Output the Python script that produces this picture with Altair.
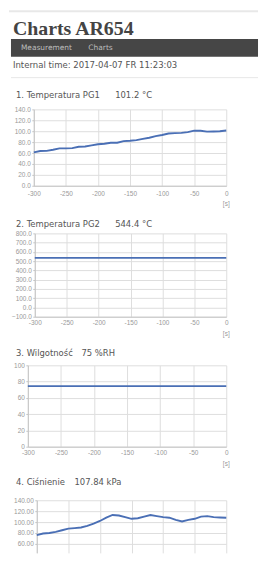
import altair as alt
import pandas as pd

# ---------------- data ----------------
PAGE_TITLE = "Charts AR654"
NAV_ITEMS = ["Measurement", "Charts"]
INTERNAL_TIME = "Internal time: 2017-04-07 FR 11:23:03"

CHART_NAMES = ["1. Temperatura PG1", "2. Temperatura PG2", "3. Wilgotność", "4. Ciśnienie"]
CHART_VALUES = ["101.2 °C", "544.4 °C", "75 %RH", "107.84 kPa"]

SECONDS = [-300, -290, -280, -270, -260, -250, -240, -230, -220, -210, -200,
           -190, -180, -170, -160, -150, -140, -130, -120, -110, -100,
           -90, -80, -70, -60, -50, -40, -30, -20, -10, 0]
X_TICKS = [-300, -250, -200, -150, -100, -50, 0]

PG1 = [61.2, 63.6, 64.0, 66.0, 68.5, 68.5, 69.0, 71.5, 72.0, 73.9, 76.0,
       77.0, 78.8, 78.8, 81.8, 82.5, 83.6, 86.0, 88.0, 91.0, 93.0,
       95.8, 96.5, 97.0, 98.2, 101.0, 100.8, 99.2, 99.4, 99.8, 101.2]
PG2 = [535.0, 535.0, 535.0, 535.0, 535.0, 535.0, 535.0, 535.0, 535.0, 535.0, 535.0,
       535.0, 535.0, 535.0, 535.0, 535.0, 535.0, 535.0, 535.0, 535.0, 535.0,
       535.0, 535.0, 535.0, 535.0, 535.0, 535.0, 535.0, 535.0, 535.0, 535.0]
RH = [74.5, 74.5, 74.5, 74.5, 74.5, 74.5, 74.5, 74.5, 74.5, 74.5, 74.5,
      74.5, 74.5, 74.5, 74.5, 74.5, 74.5, 74.5, 74.5, 74.5, 74.5,
      74.5, 74.5, 74.5, 74.5, 74.5, 74.5, 74.5, 74.5, 74.5, 74.5]
PRESSURE = [76.0, 79.0, 80.0, 82.0, 85.0, 88.0, 89.0, 90.0, 93.0, 97.0, 102.0,
            108.0, 113.0, 112.0, 109.0, 106.0, 107.0, 110.0, 113.0, 111.0, 109.0,
            108.0, 104.0, 101.0, 104.0, 106.0, 110.0, 111.0, 109.0, 108.5, 107.84]

Y_TICKS = [
    [0, 20, 40, 60, 80, 100, 120, 140],
    [-100, 0, 100, 200, 300, 400, 500, 600, 700, 800],
    [0, 20, 40, 60, 80, 100],
    [60, 80, 100, 120, 140],
]
Y_DOMAINS = [[0, 140], [-100, 800], [0, 100], [43.6, 140]]
Y_FORMATS = [".1f", ".1f", "d", ".2f"]

# ---------------- style ----------------
LINE_COLOR = "#4a6fb5"
SANS = "DejaVu Sans"
AXIS_FONT = "Liberation Sans"
GRID = "#dedede"
DOMAIN = "#c4c4c4"
LABEL = "#999999"
PLOT_W = 200
RIGHT = 232  # right end of the header bands, relative to the plot origin

one = pd.DataFrame({"k": [0]})


def make_chart(i, values, x0, height, top, bottom, title_dy, value_x, s_dy,
               xpad, show_x=True):
    df = pd.DataFrame({"s": SECONDS, "v": values})
    if show_x:
        xaxis = alt.Axis(
            values=X_TICKS, labelExpr="toString(datum.value)",
            title="[s]", titleX=PLOT_W - 0.5, titleY=s_dy,
            titleAlign="center", titleBaseline="middle",
            titleFont=AXIS_FONT, titleFontSize=6.5, titleFontWeight="normal",
            titleColor=LABEL, labelFont=AXIS_FONT, labelFontSize=6.5,
            labelColor=LABEL, labelPadding=xpad, tickSize=0,
            domainColor=DOMAIN, gridColor=GRID, labelFlush=False,
        )
    else:
        xaxis = alt.Axis(values=X_TICKS, labels=False, ticks=False, domain=False,
                         title=None, gridColor=GRID)
    line = alt.Chart(df).mark_line(color=LINE_COLOR, strokeWidth=1.9).encode(
        x=alt.X(
            "s:Q",
            scale=alt.Scale(domain=[-300, 0], range=[x0, PLOT_W], nice=False,
                            zero=False),
            axis=xaxis,
        ),
        y=alt.Y(
            "v:Q",
            scale=alt.Scale(domain=Y_DOMAINS[i], nice=False, zero=False),
            axis=alt.Axis(
                values=Y_TICKS[i], format=Y_FORMATS[i], title=None, offset=-x0,
                labelFont=AXIS_FONT, labelFontSize=6.5, labelColor=LABEL,
                labelPadding=1.5, tickSize=2, tickColor=DOMAIN,
                domainColor=DOMAIN, gridColor=GRID, labelFlush=False,
            ),
        ),
    )
    tdf = pd.DataFrame({"name": [CHART_NAMES[i]], "value": [CHART_VALUES[i]]})
    name = alt.Chart(tdf).mark_text(
        align="left", baseline="middle", font=SANS, fontSize=8.5, color="#555555"
    ).encode(x=alt.value(-12), y=alt.value(title_dy), text="name:N")
    val = alt.Chart(tdf).mark_text(
        align="left", baseline="middle", font=SANS, fontSize=8.5, color="#555555"
    ).encode(x=alt.value(value_x), y=alt.value(title_dy), text="value:N")
    anchor = alt.Chart(one).mark_rule(strokeOpacity=0, color="white").encode(
        x=alt.value(0), y=alt.value(-top), y2=alt.value(height + bottom)
    )
    return alt.layer(line, name, val, anchor).properties(width=PLOT_W, height=height)


# header (group origin sits at the common plot left edge, x = 19 on the canvas)
hdf = pd.DataFrame({"t": [PAGE_TITLE], "n1": [NAV_ITEMS[0]], "n2": [NAV_ITEMS[1]],
                    "it": [INTERNAL_TIME]})
hbase = alt.Chart(hdf)
top_line = hbase.mark_rule(color="#e8e8e8", strokeWidth=2).encode(
    x=alt.value(-19), x2=alt.value(RIGHT), y=alt.value(1))
nav = hbase.mark_rect(color="#464646").encode(
    x=alt.value(-17), x2=alt.value(RIGHT), y=alt.value(29), y2=alt.value(47))
title_t = hbase.mark_text(align="left", baseline="alphabetic", font="Liberation Serif",
                          fontWeight="bold", fontSize=20, color="#444444").encode(
    x=alt.value(-15), y=alt.value(25), text="t:N")
nav1 = hbase.mark_text(align="left", baseline="middle", font=SANS, fontSize=7.5,
                       color="#bdbdbd").encode(x=alt.value(-7), y=alt.value(38), text="n1:N")
nav2 = hbase.mark_text(align="left", baseline="middle", font=SANS, fontSize=7.5,
                       color="#bdbdbd").encode(x=alt.value(61), y=alt.value(38), text="n2:N")
itime = hbase.mark_text(align="left", baseline="middle", font=SANS, fontSize=8.6,
                        color="#555555").encode(x=alt.value(-15), y=alt.value(55), text="it:N")
sep = hbase.mark_rule(color="#e8e8e8", strokeWidth=1).encode(
    x=alt.value(-17), x2=alt.value(RIGHT), y=alt.value(68))
header = alt.layer(top_line, nav, title_t, nav1, nav2, itime, sep).properties(
    width=PLOT_W, height=72)

c1 = make_chart(0, PG1, 6, 77, 28, 27, -14, 88, 18, 4.5)
c2 = make_chart(1, PG2, 7, 84, 21, 25, -9, 88, 16.5, 3)
c3 = make_chart(2, RH, 0, 82, 24, 28, -12, 54, 16.5, 3)
c4 = make_chart(3, PRESSURE, 9, 53, 26, 0, -18, 47, 16.5, 3, show_x=False)

chart = alt.vconcat(header, c1, c2, c3, c4, spacing=0).properties(
    padding=0, background="white"
).configure_view(stroke=None)

chart.save("out.html", embed_options={"renderer": "svg", "actions": False})
